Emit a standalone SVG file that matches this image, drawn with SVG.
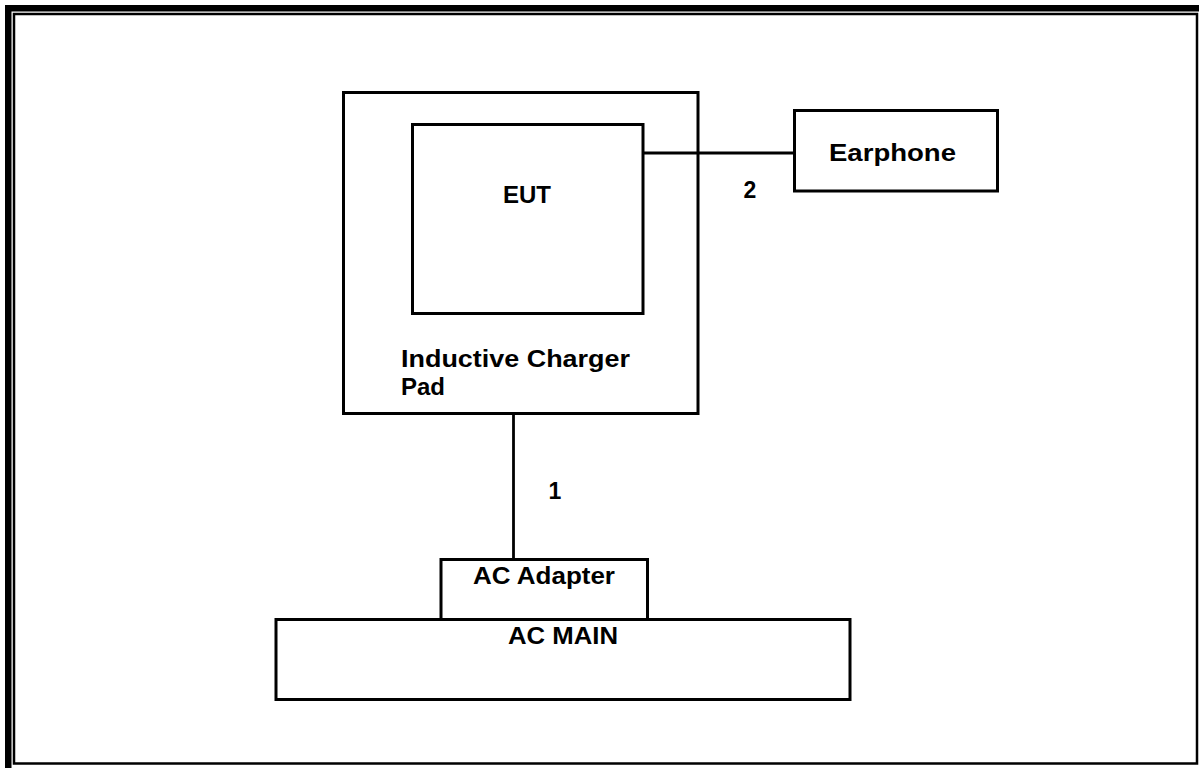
<svg xmlns="http://www.w3.org/2000/svg" width="1199" height="768" viewBox="0 0 1199 768">
<style>
.box{fill:none;stroke:#000;stroke-width:3}
.wire{fill:none;stroke:#000;stroke-width:2.8}
.t{font-family:"Liberation Sans",Arial,sans-serif;font-weight:bold;font-size:23px;fill:#000}
</style>
<rect x="0" y="0" width="1199" height="768" fill="#fff"/>
<g id="frame">
<rect x="5" y="5" width="1194" height="6.5" fill="#000"/>
<rect x="5" y="5" width="6.5" height="763" fill="#000"/>
<rect x="14" y="14" width="1183" height="749.5" fill="none" stroke="#000" stroke-width="2.5"/>
</g>
<g id="connectors">
<line class="wire" x1="643" y1="153" x2="794" y2="153"/>
<line class="wire" x1="513.5" y1="414" x2="513.5" y2="559"/>
<text class="t" x="750" y="198" text-anchor="middle">2</text>
<text class="t" x="555" y="499" text-anchor="middle">1</text>
</g>
<g id="charger-pad">
<rect class="box" x="343.5" y="92.5" width="354.5" height="321"/>
<text class="t" x="401" y="367" textLength="229" lengthAdjust="spacingAndGlyphs">Inductive Charger</text>
<text class="t" x="401" y="395" textLength="44" lengthAdjust="spacingAndGlyphs">Pad</text>
</g>
<g id="eut">
<rect class="box" x="412.5" y="124.5" width="230.5" height="189"/>
<text class="t" x="503" y="203" textLength="48" lengthAdjust="spacingAndGlyphs">EUT</text>
</g>
<g id="earphone">
<rect class="box" x="794.5" y="110.5" width="203" height="80.5"/>
<text class="t" x="829" y="161" textLength="127" lengthAdjust="spacingAndGlyphs">Earphone</text>
</g>
<g id="ac-adapter">
<rect class="box" x="441" y="559.5" width="206.5" height="60"/>
<text class="t" x="473" y="584" textLength="142" lengthAdjust="spacingAndGlyphs">AC Adapter</text>
</g>
<g id="ac-main">
<rect class="box" x="276" y="619.5" width="574" height="80"/>
<text class="t" x="508" y="644" textLength="110" lengthAdjust="spacingAndGlyphs">AC MAIN</text>
</g>
</svg>
